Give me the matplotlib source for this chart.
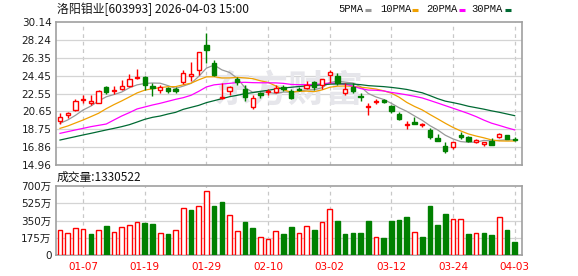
import matplotlib
matplotlib.use('Agg')
import matplotlib.pyplot as plt
from matplotlib.lines import Line2D
import numpy as np

# ---------------- data ----------------
tick_pos = [3, 11, 19, 27, 35, 43, 51, 59]
tick_labels = ['01-07', '01-19', '01-29', '02-10', '03-02', '03-12', '03-24', '04-03']

opens = [19.60, 20.27, 20.80, 21.86, 21.58, 21.51, 23.20, 22.78, 22.99, 23.38,
         24.20, 24.27, 23.35, 22.92, 23.17, 23.06, 23.77, 24.44, 25.04, 27.70,
         25.75, 22.07, 22.85, 24.05, 23.06, 21.08, 22.57, 22.71, 22.71, 23.20,
         22.85, 23.06, 23.13, 23.77, 23.49, 24.55, 24.41, 22.64, 23.28, 22.29,
         21.08, 21.65, 21.86, 21.22, 20.37, 19.20, 19.50, 19.25, 18.68, 17.83,
         16.98, 16.91, 18.11, 17.97, 17.40, 17.19, 17.54, 17.97, 18.11, 17.76]
closes = [20.06, 20.48, 21.72, 22.00, 21.79, 22.78, 22.71, 22.92, 23.31, 24.05,
          24.34, 23.45, 23.17, 23.20, 22.78, 22.85, 24.69, 24.58, 26.92, 27.17,
          24.48, 22.15, 23.20, 23.80, 22.21, 22.07, 22.43, 22.85, 23.17, 22.99,
          22.07, 22.92, 23.49, 23.28, 24.05, 24.85, 23.63, 22.99, 22.78, 22.14,
          21.22, 21.79, 21.65, 20.73, 19.81, 19.30, 19.35, 19.33, 17.90, 17.54,
          16.48, 17.40, 17.90, 17.54, 17.61, 17.40, 17.12, 18.25, 17.76, 17.62]
highs = [20.45, 20.59, 22.00, 22.43, 22.43, 22.92, 23.35, 23.35, 23.98, 24.62,
         25.12, 24.41, 23.63, 23.42, 23.28, 23.20, 25.04, 25.89, 26.92, 29.01,
         26.11, 23.63, 23.35, 24.27, 23.42, 22.36, 22.71, 23.06, 23.42, 23.42,
         22.99, 23.20, 23.91, 23.84, 24.12, 25.00, 24.69, 23.63, 23.63, 22.57,
         21.51, 22.00, 22.00, 21.36, 20.59, 19.67, 20.02, 19.45, 18.89, 18.25,
         17.40, 17.40, 18.46, 18.04, 17.76, 17.40, 17.83, 18.32, 18.18, 17.90]
lows = [19.35, 19.95, 20.73, 21.58, 21.37, 21.51, 22.50, 22.50, 22.92, 23.28,
        24.12, 22.92, 22.29, 22.64, 22.64, 22.64, 23.56, 23.91, 24.51, 25.80,
        24.41, 22.00, 22.36, 23.42, 21.72, 20.87, 22.07, 22.43, 22.57, 22.85,
        21.93, 22.85, 22.99, 22.92, 22.99, 23.70, 23.42, 22.43, 22.64, 21.79,
        20.30, 21.44, 21.51, 20.45, 19.74, 18.82, 19.35, 19.03, 17.76, 17.47,
        16.27, 16.69, 17.76, 17.40, 17.26, 16.98, 17.12, 17.83, 17.69, 17.55]
volumes_wan = [252, 225, 273, 262, 215, 252, 296, 232, 283, 303,
               333, 326, 316, 222, 215, 252, 474, 458, 495, 646,
               498, 538, 407, 242, 336, 276, 182, 162, 242, 215,
               286, 222, 293, 256, 333, 464, 347, 215, 225, 225,
               347, 182, 175, 347, 357, 387, 232, 185, 498, 306,
               417, 363, 363, 215, 222, 225, 205, 384, 256, 133.05]

ma5_head = [19.38, 19.74, 20.23, 20.80]
ma10_head = [18.85, 19.10, 19.42, 19.74, 20.09, 20.45, 20.94, 21.37, 21.76]
ma20_head = [18.32, 18.50, 18.68, 18.85, 19.03, 19.17, 19.31, 19.74, 20.16, 20.52,
             20.91, 21.12, 21.33, 21.51, 21.72, 21.93, 22.11, 22.36, 22.78]
ma30_head = [17.61, 17.79, 17.97, 18.15, 18.32, 18.50, 18.68, 18.85, 19.03, 19.24,
             19.52, 19.81, 20.02, 20.16, 20.37, 20.55, 20.87, 21.08, 21.29, 21.58,
             21.79, 22.00, 22.21, 22.36, 22.53, 22.64, 22.78, 22.89, 23.03]

price_ticks = [14.96, 16.86, 18.75, 20.65, 22.55, 24.45, 26.35, 28.24, 30.14]
vol_ticks = [0, 175, 350, 525, 700]
vol_tick_labels = ['0', '175万', '350万', '525万', '700万']
title_text = '洛阳钼业[603993] 2026-04-03 15:00'
vol_title = '成交量:1330522'
ma_names = ['5PMA', '10PMA', '20PMA', '30PMA']

# ---------------- style ----------------
RED = '#ff0000'
GREEN = '#008000'
MA_COLORS = ['#999999', '#f0a000', '#ff00ff', '#006a33']
GRID = '#d4d4d4'
FRAME = '#a0a0a0'
TXT = '#1c1c1c'
CJK = ['Noto Sans CJK SC', 'DejaVu Sans']
NUMF = ['DejaVu Sans', 'Noto Sans CJK SC']

o = np.array(opens); c = np.array(closes); h = np.array(highs); l = np.array(lows)
v = np.array(volumes_wan, dtype=float)
n = len(c)
x = np.arange(n)


def moving_avg(vals, win, head):
    out = list(head)
    for i in range(len(head), len(vals)):
        out.append(np.mean(vals[i - win + 1:i + 1]))
    return np.array(out)

mas = [moving_avg(c, 5, ma5_head), moving_avg(c, 10, ma10_head),
       moving_avg(c, 20, ma20_head), moving_avg(c, 30, ma30_head)]

W, H = 578, 276
fig = plt.figure(figsize=(W / 100, H / 100), dpi=100)
fig.patch.set_facecolor('white')


def px_axes(x0, y0, x1, y1):
    return fig.add_axes([x0 / W, 1 - y1 / H, (x1 - x0) / W, (y1 - y0) / H])

ax = px_axes(55.7, 22, 522, 165)
axv = px_axes(55.7, 186, 522, 255.3)

xlim = (-0.56, 59.95)
for a in (ax, axv):
    a.set_xlim(*xlim)
    for s in a.spines.values():
        s.set_color(FRAME)
        s.set_linewidth(1.2)
    a.tick_params(length=0, pad=3)
    a.set_xticks(tick_pos)
    for tp in tick_pos:
        a.axvline(tp, color='#c8c8c8', lw=0.9, ls=(0, (3, 3)), zorder=0)
    a.set_facecolor('white')

# price axes
ax.set_ylim(price_ticks[0], price_ticks[-1])
ax.set_yticks(price_ticks)
ax.set_yticklabels([f'{t:.2f}' for t in price_ticks], fontsize=7.5, color=TXT, family=NUMF)
for t in price_ticks[1:-1]:
    ax.axhline(t, color=GRID, lw=0.9, zorder=0)
ax.set_xticklabels([])

ax.text(0.5, 0.515, '东方财富', transform=ax.transAxes, fontsize=27, color='#e6e6eb',
        family=CJK, weight='bold', ha='center', va='center', zorder=0.5, style='italic')

for ma, col in zip(mas, MA_COLORS):
    ax.plot(x, ma, color=col, lw=0.9, zorder=2)

up = c >= o
# wicks
ax.vlines(x, l, h, colors=np.where(up, RED, GREEN), lw=1.0, zorder=3)
body_h = np.maximum(np.abs(c - o), 0.02)
ax.bar(x, body_h, bottom=np.minimum(o, c), width=0.56,
       color=np.where(up, 'white', GREEN), edgecolor=np.where(up, RED, GREEN),
       linewidth=1.0, zorder=4)

# volume axes
axv.set_ylim(0, 700)
axv.set_yticks(vol_ticks)
axv.set_yticklabels(vol_tick_labels, fontsize=7.5, color=TXT, family=NUMF)
for t in vol_ticks[1:-1]:
    axv.axhline(t, color=GRID, lw=0.9, zorder=0)
axv.set_xticklabels(tick_labels, fontsize=7.5, color=RED, family=NUMF)
axv.tick_params(axis='x', pad=4.5)
vol_up = np.r_[c[0] >= o[0], c[1:] >= c[:-1]]
axv.bar(x, v, width=0.6, color=np.where(vol_up, 'white', GREEN),
        edgecolor=np.where(vol_up, RED, GREEN), linewidth=1.0, zorder=3)

# texts
fig.text(57 / W, 1 - 9.5 / H, title_text, fontsize=8.6, family=CJK, color='#111111',
         ha='left', va='center')
fig.text(57 / W, 1 - 177.5 / H, vol_title, fontsize=8.5, family=CJK, color='#111111',
         ha='left', va='center')

leg_x = [338, 380, 426, 471]
dash_x = [365, 412, 459, 505]
for name, lx, dx, col in zip(ma_names, leg_x, dash_x, MA_COLORS):
    fig.text(lx / W, 1 - 9.5 / H, name, fontsize=7.6, family='Liberation Mono',
             color='#111111', ha='left', va='center')
    fig.add_artist(Line2D([dx / W, (dx + 5.5) / W], [1 - 10 / H, 1 - 10 / H],
                          color=col, lw=2.2, solid_capstyle='butt'))

fig.savefig('out.png', dpi=100, facecolor='white')
